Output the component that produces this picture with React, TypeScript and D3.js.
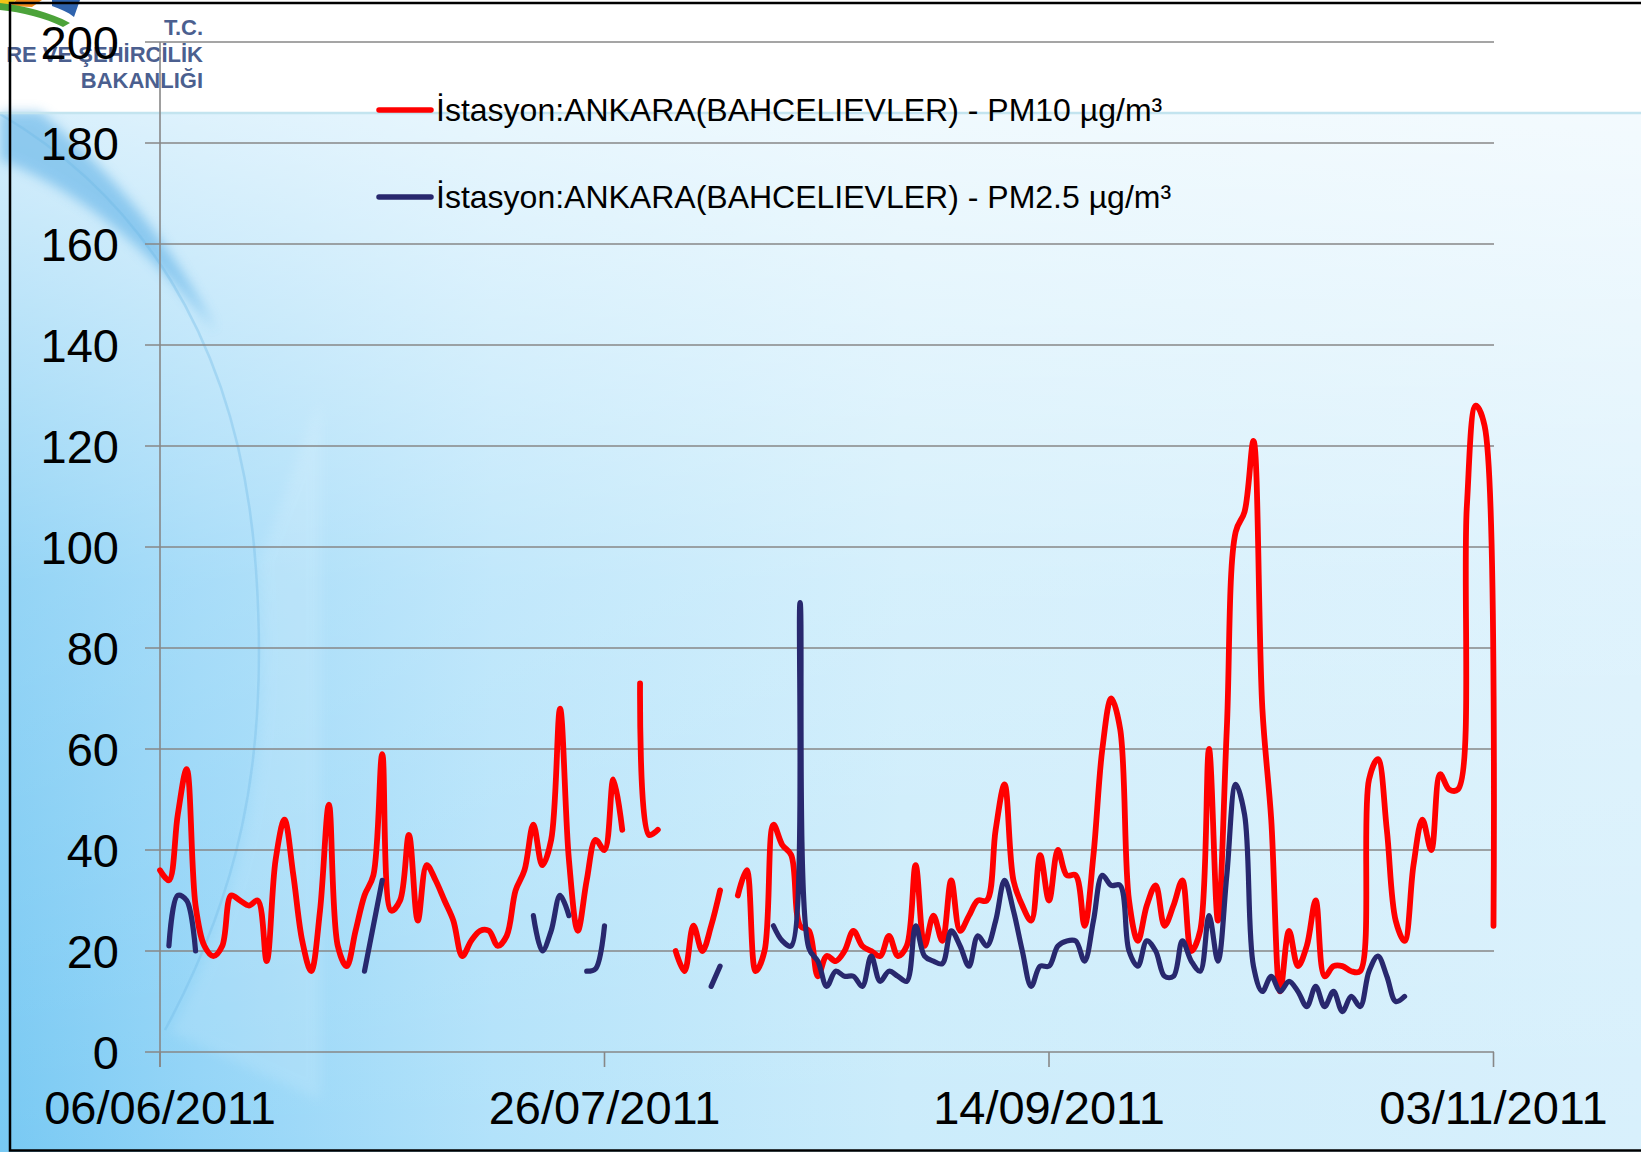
import React, { useEffect, useRef } from 'react';
import * as d3 from 'd3';

const W = 1641;
const H = 1152;

// x axis: one value per day, starting at the first tick label
const tickLabels = ['06/06/2011', '26/07/2011', '14/09/2011', '03/11/2011'];
const yTicks = [0, 20, 40, 60, 80, 100, 120, 140, 160, 180, 200];

const seriesNames = [
  'İstasyon:ANKARA(BAHCELIEVLER) - PM10 µg/m³',
  'İstasyon:ANKARA(BAHCELIEVLER) - PM2.5 µg/m³',
];

// daily PM10 (null = no measurement)
const pm10 = [
  36, 34, 47, 56, 29, 21, 19, 21, 31, 30,
  29, 30, 18, 38, 46, 35, 22, 16, 28, 49,
  21, 17, 24, 31, 35, 59, 28, 30, 43, 26,
  37, 34, 30, 26, 19, 22, 24, 24, 21, 23,
  32, 36, 45, 37, 42, 68, 38, 24, 34, 42,
  40, 54, 44, null, 73, 43, 44, null, 20, 16,
  25, 20, 25, 32, null, 31, 36, 16, 20, 45,
  41, 39, 25, 24, 15, 19, 18, 20, 24, 21,
  20, 19, 23, 19, 21, 37, 21, 27, 22, 34,
  24, 27, 30, 30, 44, 53, 34, 29, 26, 39,
  30, 40, 35, 35, 25, 39, 60, 70, 64, 30,
  22, 29, 33, 25, 29, 34, 20, 24, 60, 26,
  64, 103, 107, 121, 68, 46, 12, 24, 17, 21,
  30, 15, 17, 17, 16, 16, 54, 58, 44, 26,
  22, 37, 46, 40, 55, 52, 52, 108, 128, 124,
  25,
];

// daily PM2.5
const pm25 = [
  null, 21, 31, 30, 20, null, null, null, null, null,
  null, null, null, null, null, null, null, null, null, null,
  null, null, null, 16, 25, 34, null, null, null, null,
  null, null, null, null, null, null, null, null, null, null,
  null, null, 27, 20, 24, 31, 27, null, 16, 16.5,
  25, null, null, null, null, null, null, null, null, null,
  null, null, 13, 17, null, null, null, null, null, 25,
  22, 21, 89, 20.5, 18, 13, 16, 15, 15, 13,
  19, 14, 16, 15, 14, 25, 19, 18, 17.5, 24,
  21, 17, 23, 21, 26, 34, 28, 20, 13, 17,
  17, 21, 22, 22, 18, 26, 35, 33, 33, 20,
  17, 22, 20, 15, 15, 22, 18, 16, 27, 18,
  35, 53, 47, 17, 12, 15, 12, 14, 12, 9,
  13, 9, 12, 8, 11, 9, 16, 19, 15, 10,
  11, null, null, null, null, null, null, null, null, null,
  null,
];

const RED = '#ff0000';
const NAVY = '#28286e';
const GRID = '#878787';
const FONT = '"Liberation Sans", Arial, sans-serif';

const App = () => {
  const svgRef = useRef<SVGSVGElement>(null);

  useEffect(() => {
    if (!svgRef.current) return;
    document.body.style.margin = '0';
    const svg = d3.select(svgRef.current);
    svg.selectAll('*').remove();

    const parse = d3.utcParse('%d/%m/%Y');
    const t0 = parse(tickLabels[0]) as Date;
    const t1 = parse(tickLabels[tickLabels.length - 1]) as Date;
    const x = d3.scaleUtc().domain([t0, t1]).range([160, 1493.5]);
    const y = d3.scaleLinear().domain([0, 200]).range([1052, 42]);
    const dates = pm10.map((_, i) => d3.utcDay.offset(t0, i));

    // background
    const defs = svg.append('defs');
    const bg = defs.append('linearGradient').attr('id', 'bg').attr('x1', 0).attr('x2', 1).attr('y1', 0).attr('y2', 0);
    [[0, '#78c9f3'], [0.12, '#92d4f7'], [0.3, '#b2e2fa'], [0.55, '#cbecfb'], [1, '#d8f0fc']].forEach(([o, c]) =>
      bg.append('stop').attr('offset', o as number).attr('stop-color', c as string));
    const fade = defs.append('linearGradient').attr('id', 'fade').attr('x1', 0).attr('x2', 0).attr('y1', 0).attr('y2', 1);
    [[0, 0.7], [0.45, 0.2], [1, 0]].forEach(([o, a]) =>
      fade.append('stop').attr('offset', o).attr('stop-color', '#fff').attr('stop-opacity', a));
    const blur = defs.append('filter').attr('id', 'blur').attr('x', -0.2).attr('y', -0.2).attr('width', 1.4).attr('height', 1.4);
    blur.append('feGaussianBlur').attr('stdDeviation', 6);

    svg.append('rect').attr('width', W).attr('height', H).attr('fill', '#fff');
    svg.append('rect').attr('y', 112).attr('width', W).attr('height', H - 112).attr('fill', 'url(#bg)');
    svg.append('rect').attr('y', 112).attr('width', W).attr('height', H - 112).attr('fill', 'url(#fade)');
    // swoosh of the slide template
    svg.append('path')
      .attr('d', 'M0,112 L40,112 C110,170 170,240 215,330 C150,250 80,190 0,160 Z')
      .attr('fill', '#4aa6e3').attr('opacity', 0.5).attr('filter', 'url(#blur)');
    svg.append('path')
      .attr('d', 'M0,114 C130,190 240,330 256,570 C270,770 235,900 165,1030')
      .attr('fill', 'none').attr('stroke', '#6cb6e6').attr('stroke-width', 2.5).attr('opacity', 0.35);
    svg.append('path')
      .attr('d', 'M260,560 C276,760 240,905 170,1032 L320,1100 L320,400 Z')
      .attr('fill', '#fff').attr('opacity', 0.12).attr('filter', 'url(#blur)');
    svg.append('line').attr('x1', 0).attr('x2', W).attr('y1', 113).attr('y2', 113)
      .attr('stroke', '#c3e4ef').attr('stroke-width', 2.5);

    // logo
    const logo = svg.append('g');
    logo.append('path').attr('d', 'M0,0 L16,0 L10,5 L0,5 Z').attr('fill', '#f3c316');
    logo.append('path').attr('d', 'M16,0 L42,0 L32,7 L10,6 Z').attr('fill', '#f08a1c');
    logo.append('path').attr('d', 'M0,3 C25,6 50,12 70,23 L63,27 C45,18 22,12 0,10 Z').attr('fill', '#4ca33a');
    logo.append('path').attr('d', 'M52,0 L80,0 L74,17 C68,12 60,9 52,6 Z').attr('fill', '#2f63ad');
    const logoText = [['T.C.', 35], ['RE VE ŞEHİRCİLİK', 61.5], ['BAKANLIĞI', 88]];
    logo.selectAll('text.logo').data(logoText).enter().append('text')
      .attr('x', 203).attr('y', d => d[1] as number)
      .attr('text-anchor', 'end').attr('font-family', FONT).attr('font-weight', 'bold')
      .attr('font-size', 22).attr('fill', '#4b5f8f').text(d => d[0] as string);

    // frame
    svg.append('path').attr('d', `M${W},3 L10,3 L10,1150.5 L${W},1150.5`)
      .attr('fill', 'none').attr('stroke', '#000').attr('stroke-width', 2.5);

    // grid
    svg.append('g').selectAll('line').data(yTicks).enter().append('line')
      .attr('x1', 145).attr('x2', 1494).attr('y1', d => y(d)).attr('y2', d => y(d))
      .attr('stroke', GRID).attr('stroke-width', 1.6);
    svg.append('line').attr('x1', 160).attr('x2', 160).attr('y1', y(200)).attr('y2', 1067)
      .attr('stroke', GRID).attr('stroke-width', 1.6);
    svg.append('g').selectAll('line').data(tickLabels).enter().append('line')
      .attr('x1', d => x(parse(d) as Date)).attr('x2', d => x(parse(d) as Date))
      .attr('y1', 1052).attr('y2', 1067).attr('stroke', GRID).attr('stroke-width', 1.6);

    // tick labels
    svg.append('g').selectAll('text').data(yTicks).enter().append('text')
      .attr('x', 119).attr('y', d => y(d)).attr('dy', '0.36em')
      .attr('text-anchor', 'end').attr('font-family', FONT).attr('font-size', 47)
      .text(d => d);
    svg.append('g').selectAll('text').data(tickLabels).enter().append('text')
      .attr('x', d => x(parse(d) as Date)).attr('y', 1124)
      .attr('text-anchor', 'middle').attr('font-family', FONT).attr('font-size', 47)
      .text(d => d);

    // series
    const line = d3.line<number | null>()
      .defined(d => d != null)
      .x((_, i) => x(dates[i]))
      .y(d => y(d as number))
      .curve(d3.curveCatmullRom.alpha(0.5));

    [[pm10, RED, 5.8], [pm25, NAVY, 5.2]].forEach(([vals, color, w]) => {
      svg.append('path').attr('d', line(vals as (number | null)[]))
        .attr('fill', 'none').attr('stroke', color as string).attr('stroke-width', w as number)
        .attr('stroke-linejoin', 'round').attr('stroke-linecap', 'round');
    });

    // legend
    const legend = svg.append('g').selectAll('g').data(seriesNames).enter().append('g')
      .attr('transform', (_, i) => `translate(0, ${i === 0 ? 110 : 197})`);
    legend.append('line').attr('x1', 379).attr('x2', 431).attr('y1', 0).attr('y2', 0)
      .attr('stroke', (_, i) => (i === 0 ? RED : NAVY)).attr('stroke-width', 5.5).attr('stroke-linecap', 'round');
    legend.append('text').attr('x', 436).attr('y', 11)
      .attr('font-family', FONT).attr('font-size', 32).text(d => d);
  }, []);

  return <svg ref={svgRef} width={W} height={H} style={{ display: 'block' }} />;
};

export default App;
